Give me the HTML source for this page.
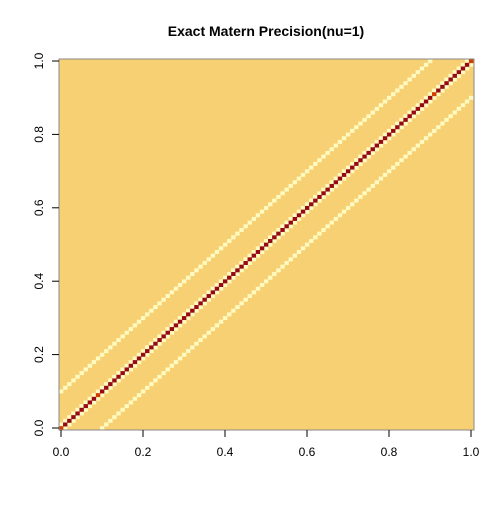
<!DOCTYPE html>
<html><head><meta charset="utf-8"><style>
body{margin:0;background:#fff}
svg text{font-family:"Liberation Sans",sans-serif;font-size:12px;fill:#000}
</style></head><body>
<svg id="chart" width="504" height="504" viewBox="0 0 504 504">
<text x="266" y="36" text-anchor="middle" style="font-weight:bold;font-size:14px">Exact Matern Precision(nu=1)</text>
<g id="cells"></g>
<rect x="59" y="59" width="415" height="371" fill="none" stroke="#888" stroke-width="1"/>
<g id="axes"></g>
</svg>
<script>
const n = 101;
const bandOffsets = [1, 10];
const orangeDiag = [0, 9, 91, 100];
const xTicks = [0, 0.2, 0.4, 0.6, 0.8, 1.0];
const yTicks = [0, 0.2, 0.4, 0.6, 0.8, 1.0];
const tickLabels = ["0.0", "0.2", "0.4", "0.6", "0.8", "1.0"];
const colBg = "#F7D073", colDiag = "#960A16", colOrange = "#D23C00", colBand = "#FFFAC0";
const X0 = 61, X1 = 471, Y0 = 428, Y1 = 61;
const sx = v => X0 + v * (X1 - X0);
const sy = v => Y0 + v * (Y1 - Y0);
const NS = "http://www.w3.org/2000/svg";
const cells = document.getElementById('cells');
const cw = (X1 - X0) / (n - 1), ch = (Y0 - Y1) / (n - 1);
const bg = document.createElementNS(NS, 'rect');
bg.setAttribute('x', 59); bg.setAttribute('y', 59); bg.setAttribute('width', 415); bg.setAttribute('height', 371); bg.setAttribute('fill', colBg);


cells.appendChild(bg);
function cell(i, j, c) {
  const r = document.createElementNS(NS, 'rect');
  r.setAttribute('x', sx(i / (n - 1)) - cw / 2);
  r.setAttribute('y', sy(j / (n - 1)) - ch / 2);
  r.setAttribute('width', cw + 0.3); r.setAttribute('height', ch + 0.3);
  r.setAttribute('fill', c);
  
  
  cells.appendChild(r);
}
for (let i = 0; i < n; i++) {
  for (const o of bandOffsets) {
    if (i + o < n) { cell(i, i + o, colBand); cell(i + o, i, colBand); }
  }
  cell(i, i, orangeDiag.includes(i) ? colOrange : colDiag);
}
const axes = document.getElementById('axes');
function line(x1, y1, x2, y2, name) {
  const l = document.createElementNS(NS, 'line');
  l.setAttribute('x1', x1); l.setAttribute('y1', y1); l.setAttribute('x2', x2); l.setAttribute('y2', y2);
  l.setAttribute('stroke', '#000');
  
  
  axes.appendChild(l);
}
xTicks.forEach((v, k) => {
  line(sx(v), 430, sx(v), 437, 'x-tick');
  const t = document.createElementNS(NS, 'text');
  t.setAttribute('x', sx(v)); t.setAttribute('y', 456); t.setAttribute('text-anchor', 'middle');
  t.textContent = tickLabels[k];
  
  
  axes.appendChild(t);
});
yTicks.forEach((v, k) => {
  line(52, sy(v), 59, sy(v), 'y-tick');
  const t = document.createElementNS(NS, 'text');
  t.setAttribute('transform', `translate(43,${sy(v)}) rotate(-90)`);
  t.setAttribute('text-anchor', 'middle');
  t.textContent = tickLabels[k];
  
  
  axes.appendChild(t);
});
</script>
</body></html>
